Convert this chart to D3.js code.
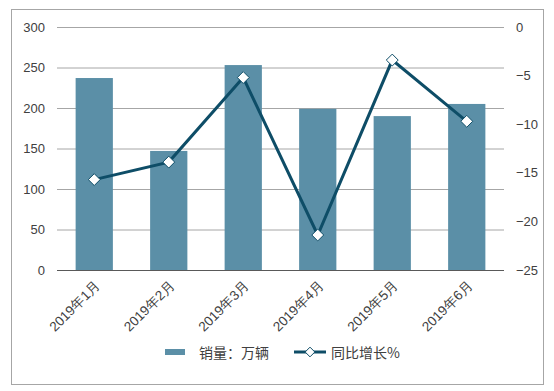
<!DOCTYPE html>
<html>
<head>
<meta charset="utf-8">
<script src="https://cdn.jsdelivr.net/npm/d3@7"></script>
<style>
body{margin:0;background:#fff}
svg text{font-family:"Liberation Sans",Arial,sans-serif}
</style>
</head>
<body>
<svg></svg>
<script>
var months = ["2019年1月","2019年2月","2019年3月","2019年4月","2019年5月","2019年6月"]
var sales = [237,147,253,199,190,205]
var growth = [-15.7,-13.9,-5.2,-21.4,-3.4,-9.7]
var leftTicks = [0,50,100,150,200,250,300]
var rightTicks = [0,-5,-10,-15,-20,-25]

var screen = {width:554,height:391}
var plot = {left:57,right:504,top:27,bottom:270}
var barColor = "#5b8fa7"
var lineColor = "#0e4d67"

var svg = d3.select("svg")
    .attr("width",screen.width)
    .attr("height",screen.height)

// outer frame
svg.append("rect")
    .attr("x",11.5).attr("y",9.5)
    .attr("width",532).attr("height",375)
    .attr("fill","#fff")
    .attr("stroke","#a6a6a6")

var xScale = d3.scaleBand()
    .domain(months)
    .range([plot.left,plot.right])
    .paddingInner(0.5).paddingOuter(0.25)

var yScale = d3.scaleLinear()
    .domain([0,300])
    .range([plot.bottom,plot.top])

var y2Scale = d3.scaleLinear()
    .domain([-25,0])
    .range([plot.bottom,plot.top])

// gridlines
svg.append("g")
    .selectAll("line")
    .data(leftTicks.filter(function(d){return d>0}))
    .enter()
    .append("line")
    .attr("x1",plot.left).attr("x2",plot.right)
    .attr("y1",function(d){return yScale(d)+0.5})
    .attr("y2",function(d){return yScale(d)+0.5})
    .attr("stroke","#a6a6a6")

// bars
svg.append("g")
    .selectAll("rect")
    .data(sales)
    .enter()
    .append("rect")
    .attr("x",function(d,i){return xScale(months[i])})
    .attr("width",xScale.bandwidth())
    .attr("y",function(d){return yScale(d)})
    .attr("height",function(d){return plot.bottom-yScale(d)})
    .attr("fill",barColor)

// baseline
svg.append("line")
    .attr("x1",plot.left).attr("x2",plot.right)
    .attr("y1",plot.bottom+0.5).attr("y2",plot.bottom+0.5)
    .attr("stroke","#595959")

// left axis
var leftAxis = d3.axisLeft(yScale).tickValues(leftTicks).tickSize(0).tickPadding(12)
var gl = svg.append("g").attr("transform","translate("+plot.left+",0)").call(leftAxis)
gl.select(".domain").remove()
gl.selectAll("text").attr("font-size",13).attr("fill","#404040")

// right axis
var rightAxis = d3.axisRight(y2Scale).tickValues(rightTicks).tickSize(0).tickPadding(12)
var gr = svg.append("g").attr("transform","translate("+plot.right+",0)").call(rightAxis)
gr.select(".domain").remove()
gr.selectAll("text").attr("font-size",13).attr("fill","#404040")

// x labels
var xAxis = d3.axisBottom(xScale).tickSize(0).tickPadding(0)
var gx = svg.append("g").attr("transform","translate(0,"+plot.bottom+")").call(xAxis)
gx.select(".domain").remove()
gx.selectAll("text")
    .attr("font-size",13.5)
    .attr("fill","#404040")
    .attr("text-anchor","end")
    .attr("dy",0)
    .attr("transform","translate(7,16) rotate(-45)")
    .attr("y",0)

// line
var cx = function(i){return xScale(months[i])+xScale.bandwidth()/2}
var line = d3.line()
    .x(function(d,i){return cx(i)})
    .y(function(d){return y2Scale(d)})

svg.append("path")
    .datum(growth)
    .attr("d",line)
    .attr("fill","none")
    .attr("stroke",lineColor)
    .attr("stroke-width",3)

svg.append("g")
    .selectAll("path")
    .data(growth)
    .enter()
    .append("path")
    .attr("d",d3.symbol().type(d3.symbolDiamond2).size(90))
    .attr("transform",function(d,i){return "translate("+cx(i)+","+y2Scale(d)+")"})
    .attr("fill","#fff")
    .attr("stroke",lineColor)
    .attr("stroke-width",1)

// legend
var lg = svg.append("g")
lg.append("rect")
    .attr("x",165).attr("y",349)
    .attr("width",20).attr("height",6)
    .attr("fill",barColor)
lg.append("text")
    .attr("x",199).attr("y",358)
    .attr("font-size",14).attr("fill","#404040")
    .style("font-family","'Noto Sans CJK SC',sans-serif")
    .text("销量：万辆")
lg.append("line")
    .attr("x1",294).attr("x2",326)
    .attr("y1",352).attr("y2",352)
    .attr("stroke",lineColor).attr("stroke-width",3)
lg.append("path")
    .attr("d",d3.symbol().type(d3.symbolDiamond2).size(60))
    .attr("transform","translate(310,352)")
    .attr("fill","#fff").attr("stroke",lineColor)
lg.append("text")
    .attr("x",331).attr("y",358)
    .attr("font-size",14).attr("fill","#404040")
    .style("font-family","'Noto Sans CJK SC',sans-serif")
    .text("同比增长%")
</script>
</body>
</html>
